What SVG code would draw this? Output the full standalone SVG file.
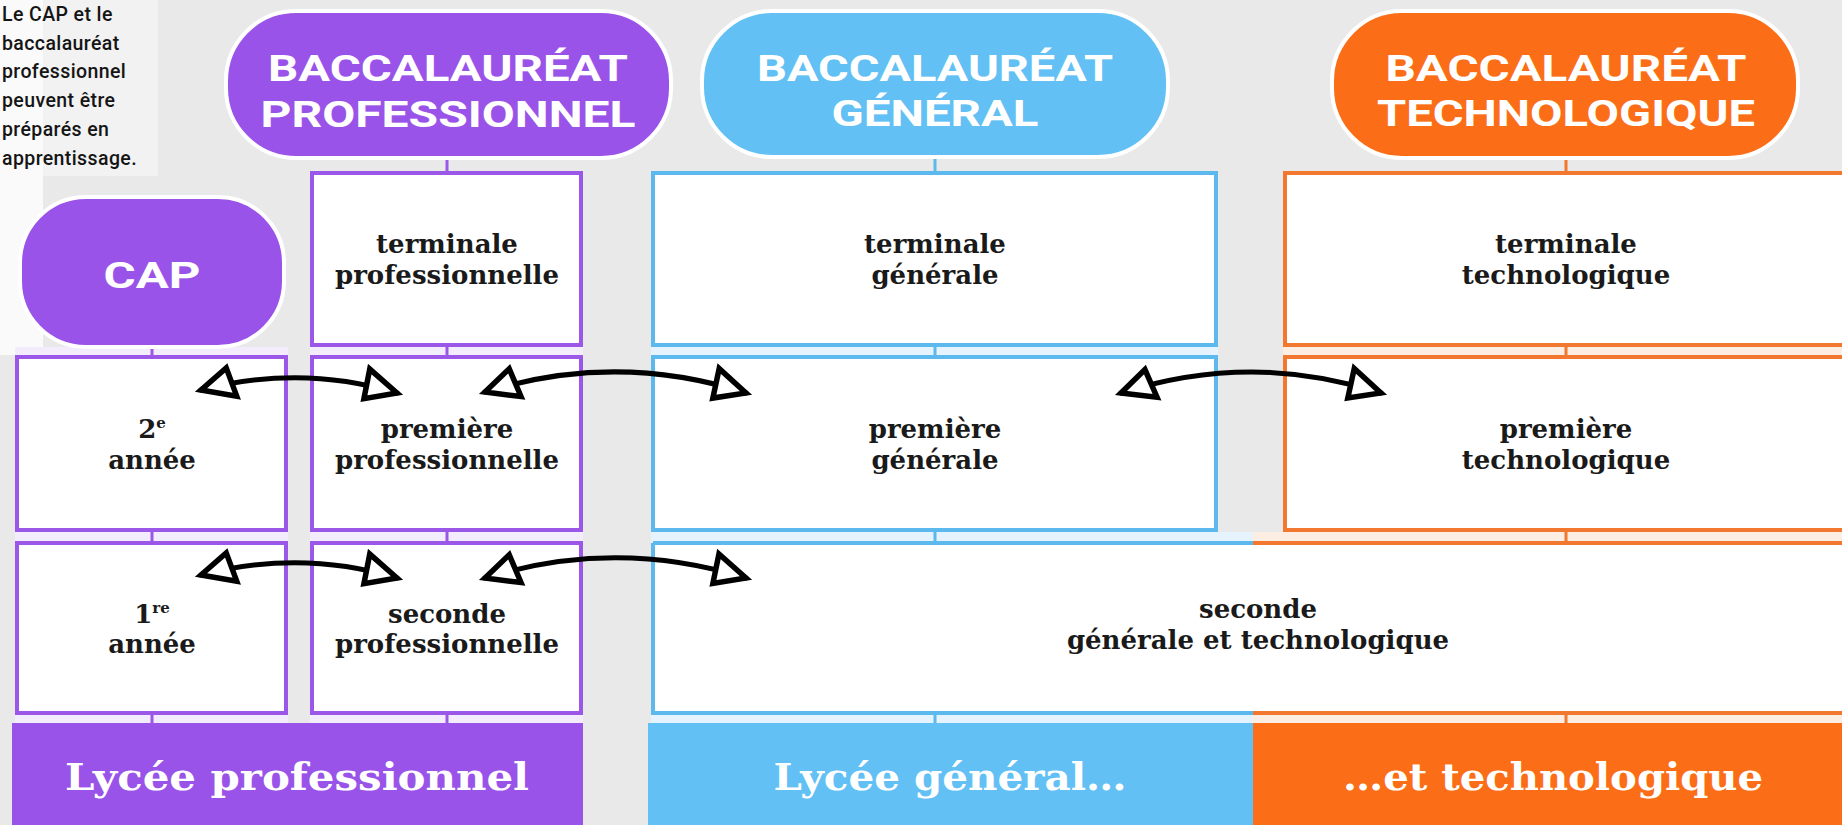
<svg xmlns="http://www.w3.org/2000/svg" width="1842" height="825" viewBox="0 0 1842 825">
<defs>
<style>
.pillP{fill:#9a53e8;stroke:#ffffff;stroke-width:4}
.pillB{fill:#62c0f4;stroke:#ffffff;stroke-width:4}
.pillO{fill:#fb6e17;stroke:#ffffff;stroke-width:4}
.bxP{fill:#ffffff;stroke:#9b58e8;stroke-width:4}
.bxB{fill:#ffffff;stroke:#5bb9ee;stroke-width:4}
.bxO{fill:#ffffff;stroke:#f2772f;stroke-width:4}
.ht{font-family:Roboto,"DejaVu Sans",sans-serif;font-weight:700;font-size:37px;fill:#ffffff;text-anchor:middle}
.bt{font-family:"DejaVu Serif",serif;font-weight:700;font-size:26px;fill:#1a1a1a;text-anchor:middle}
.sup{font-size:15px}
.band{font-family:"DejaVu Serif Condensed","DejaVu Serif",serif;font-weight:700;font-size:38px;fill:#ffffff;text-anchor:middle}
.note{font-family:Roboto,"DejaVu Sans",sans-serif;font-weight:500;font-size:19.5px;fill:#151515;letter-spacing:0.4px}
.tkP{stroke:#9b58e8;stroke-width:3}
.tkB{stroke:#5bb9ee;stroke-width:3}
.tkO{stroke:#f2772f;stroke-width:3}
.arr{fill:none;stroke:#000000;stroke-width:5;stroke-linecap:round;marker-start:url(#ah);marker-end:url(#ah)}
</style>
<marker id="ah" markerUnits="userSpaceOnUse" viewBox="-45 -25 55 50" refX="0" refY="0" markerWidth="55" markerHeight="50" orient="auto-start-reverse">
<path d="M0,0 L-33,-15 L-30,15 Z" fill="#ffffff" stroke="#000000" stroke-width="5.5" stroke-linejoin="miter"/>
</marker>
</defs>

<!-- background -->
<rect x="0" y="0" width="1842" height="825" fill="#e9e9e9"/>
<rect x="0" y="0" width="158" height="176" fill="#f2f2f2"/>
<rect x="0" y="0" width="43" height="355" fill="#fafafa"/>

<!-- pale gaps behind stacked boxes -->
<rect x="15" y="347" width="273" height="376" fill="#f3ecfd"/>
<rect x="310" y="171" width="273" height="552" fill="#f3ecfd"/>
<rect x="651" y="171" width="567" height="552" fill="#e4f3fd"/>
<rect x="1283" y="171" width="566" height="552" fill="#fdeee4"/>
<rect x="1218" y="532" width="65" height="191" fill="#e4f3fd"/>
<rect x="1253" y="532" width="30" height="191" fill="#fdeee4"/>

<!-- note -->
<g id="note">
<text class="note" x="2" y="21">Le CAP et le</text>
<text class="note" x="2" y="50">baccalauréat</text>
<text class="note" x="2" y="78">professionnel</text>
<text class="note" x="2" y="107">peuvent être</text>
<text class="note" x="2" y="136">préparés en</text>
<text class="note" x="2" y="165">apprentissage.</text>
</g>

<!-- connectors -->
<g id="connectors">
<line class="tkP" x1="152" y1="347" x2="152" y2="355"/>
<line class="tkP" x1="152" y1="532" x2="152" y2="541"/>
<line class="tkP" x1="152" y1="715" x2="152" y2="723"/>
<line class="tkP" x1="447" y1="158" x2="447" y2="171"/>
<line class="tkP" x1="447" y1="347" x2="447" y2="355"/>
<line class="tkP" x1="447" y1="532" x2="447" y2="541"/>
<line class="tkP" x1="447" y1="715" x2="447" y2="723"/>
<line class="tkB" x1="935" y1="157" x2="935" y2="171"/>
<line class="tkB" x1="935" y1="347" x2="935" y2="355"/>
<line class="tkB" x1="935" y1="532" x2="935" y2="541"/>
<line class="tkB" x1="935" y1="715" x2="935" y2="723"/>
<line class="tkO" x1="1566" y1="158" x2="1566" y2="171"/>
<line class="tkO" x1="1566" y1="347" x2="1566" y2="355"/>
<line class="tkO" x1="1566" y1="532" x2="1566" y2="541"/>
<line class="tkO" x1="1566" y1="715" x2="1566" y2="723"/>
</g>

<!-- pills -->
<g id="bac-pro">
<rect class="pillP" x="226" y="11" width="445" height="147" rx="70" ry="70"/>
<text class="ht" x="448" y="81" textLength="360" lengthAdjust="spacingAndGlyphs">BACCALAURÉAT</text>
<text class="ht" x="448" y="127" textLength="375" lengthAdjust="spacingAndGlyphs">PROFESSIONNEL</text>
</g>
<g id="bac-gen">
<rect class="pillB" x="702" y="11" width="466" height="146" rx="70" ry="70"/>
<text class="ht" x="935" y="81" textLength="356" lengthAdjust="spacingAndGlyphs">BACCALAURÉAT</text>
<text class="ht" x="935" y="126" textLength="207" lengthAdjust="spacingAndGlyphs">GÉNÉRAL</text>
</g>
<g id="bac-techno">
<rect class="pillO" x="1332" y="11" width="466" height="147" rx="70" ry="70"/>
<text class="ht" x="1566" y="81" textLength="361" lengthAdjust="spacingAndGlyphs">BACCALAURÉAT</text>
<text class="ht" x="1566" y="126" textLength="378" lengthAdjust="spacingAndGlyphs">TECHNOLOGIQUE</text>
</g>
<g id="cap">
<rect class="pillP" x="20" y="197" width="264" height="150" rx="66" ry="66"/>
<text class="ht" x="152" y="288" font-size="42" textLength="97" lengthAdjust="spacingAndGlyphs">CAP</text>
</g>

<!-- CAP column -->
<g id="cap-2e-annee">
<rect class="bxP" x="17" y="357" width="269" height="173"/>
<text class="bt" x="152" y="438">2<tspan class="sup" dy="-10">e</tspan></text>
<text class="bt" x="152" y="469">année</text>
</g>
<g id="cap-1re-annee">
<rect class="bxP" x="17" y="543" width="269" height="170"/>
<text class="bt" x="152" y="623">1<tspan class="sup" dy="-10">re</tspan></text>
<text class="bt" x="152" y="653">année</text>
</g>

<!-- Bac pro column -->
<g id="terminale-pro">
<rect class="bxP" x="312" y="173" width="269" height="172"/>
<text class="bt" x="447" y="253">terminale</text>
<text class="bt" x="447" y="284">professionnelle</text>
</g>
<g id="premiere-pro">
<rect class="bxP" x="312" y="357" width="269" height="173"/>
<text class="bt" x="447" y="438">première</text>
<text class="bt" x="447" y="469">professionnelle</text>
</g>
<g id="seconde-pro">
<rect class="bxP" x="312" y="543" width="269" height="170"/>
<text class="bt" x="447" y="623">seconde</text>
<text class="bt" x="447" y="653">professionnelle</text>
</g>

<!-- General column -->
<g id="terminale-gen">
<rect class="bxB" x="653" y="173" width="563" height="172"/>
<text class="bt" x="935" y="253">terminale</text>
<text class="bt" x="935" y="284">générale</text>
</g>
<g id="premiere-gen">
<rect class="bxB" x="653" y="357" width="563" height="173"/>
<text class="bt" x="935" y="438">première</text>
<text class="bt" x="935" y="469">générale</text>
</g>

<!-- Techno column -->
<g id="terminale-techno">
<rect class="bxO" x="1285" y="173" width="562" height="172"/>
<text class="bt" x="1566" y="253">terminale</text>
<text class="bt" x="1566" y="284">technologique</text>
</g>
<g id="premiere-techno">
<rect class="bxO" x="1285" y="357" width="562" height="173"/>
<text class="bt" x="1566" y="438">première</text>
<text class="bt" x="1566" y="469">technologique</text>
</g>

<!-- Seconde générale et technologique -->
<g id="seconde-gt">
<rect x="653" y="543" width="1194" height="170" fill="#ffffff"/>
<path d="M653,543 H1253 M653,543 V713 H1253" fill="none" stroke="#5bb9ee" stroke-width="4"/>
<path d="M1253,543 H1849 M1253,713 H1849" fill="none" stroke="#f2772f" stroke-width="4"/>
<text class="bt" x="1258" y="618">seconde</text>
<text class="bt" x="1258" y="649">générale et technologique</text>
</g>

<!-- bottom bands -->
<g id="lycee-pro">
<rect x="12" y="723" width="571" height="102" fill="#9a53e8"/>
<text class="band" x="297" y="790" textLength="464" lengthAdjust="spacingAndGlyphs">Lycée professionnel</text>
</g>
<g id="lycee-gen">
<rect x="648" y="723" width="605" height="102" fill="#62c0f4"/>
<text class="band" x="950" y="790" textLength="353" lengthAdjust="spacingAndGlyphs">Lycée général…</text>
</g>
<g id="lycee-techno">
<rect x="1253" y="723" width="589" height="102" fill="#fb6e17"/>
<text class="band" x="1553" y="790" textLength="420" lengthAdjust="spacingAndGlyphs">…et technologique</text>
</g>

<!-- double arrows -->
<g id="arrows">
<path class="arr" d="M201,390 C266,373 331,373 397,393"/>
<path class="arr" d="M485,392 C572,365 659,365 746,393"/>
<path class="arr" d="M1121,393 C1208,365 1295,365 1381,393"/>
<path class="arr" d="M201,575 C266,558 331,558 397,578"/>
<path class="arr" d="M485,578 C572,551 659,551 746,578"/>
</g>
</svg>
